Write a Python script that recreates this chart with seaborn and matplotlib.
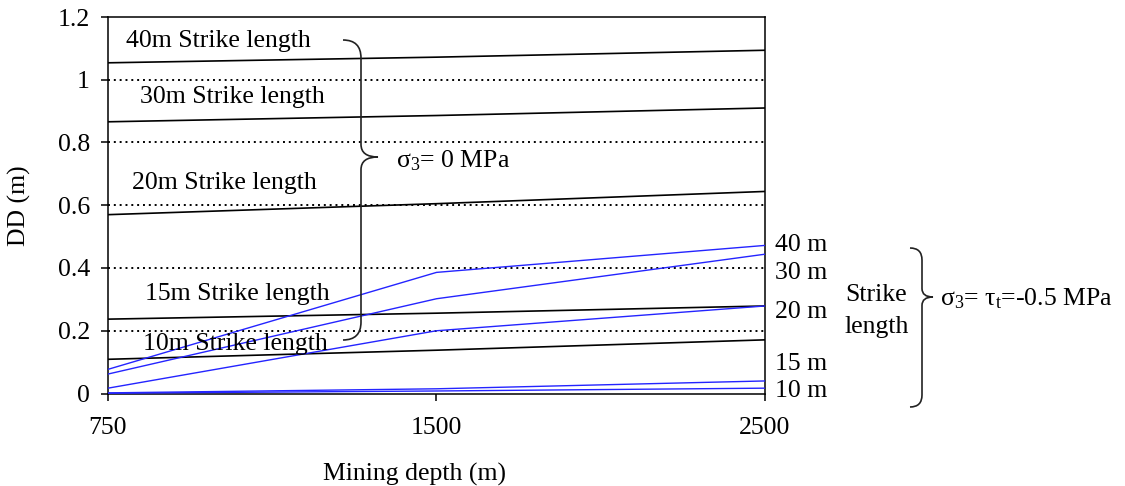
import numpy as np
import pandas as pd
import matplotlib
matplotlib.use("Agg")
import matplotlib.pyplot as plt
from matplotlib.path import Path
from matplotlib.patches import PathPatch
import seaborn as sns

# Mining depths (categorical axis) and strike lengths
depths = ["750", "1500", "2500"]
strike_lengths = [40, 30, 20, 15, 10]

# Displacement DD (m) with sigma3 = 0 MPa
dd_zero = {
    40: [1.054, 1.072, 1.094],
    30: [0.866, 0.886, 0.910],
    20: [0.570, 0.605, 0.644],
    15: [0.237, 0.256, 0.279],
    10: [0.109, 0.138, 0.171],
}

# Displacement DD (m) with sigma3 = tau_t = -0.5 MPa
dd_tension = {
    40: [0.077, 0.386, 0.472],
    30: [0.062, 0.302, 0.444],
    20: [0.017, 0.200, 0.279],
    15: [0.002, 0.015, 0.040],
    10: [0.001, 0.008, 0.017],
}

y_ticks = [0, 0.2, 0.4, 0.6, 0.8, 1, 1.2]
y_tick_labels = ["0", "0.2", "0.4", "0.6", "0.8", "1", "1.2"]


def long_form(table):
    rows = []
    for length in strike_lengths:
        for d, v in zip(depths, table[length]):
            rows.append({"Depth": d, "DD": v, "Strike": length})
    return pd.DataFrame(rows)


df_zero = long_form(dd_zero)
df_tension = long_form(dd_tension)

sns.set_theme(style="white")
plt.rcParams["font.family"] = ["Liberation Serif", "DejaVu Serif"]
plt.rcParams["mathtext.fontset"] = "custom"
plt.rcParams["mathtext.rm"] = "Liberation Serif"
plt.rcParams["mathtext.it"] = "Liberation Serif:italic"

W, H = 1125, 486
fig = plt.figure(figsize=(W / 100, H / 100), dpi=100)
ax = fig.add_axes([108 / W, 1 - 393.5 / H, (765 - 108) / W, (393.5 - 17) / H])


def fpos(px, py):
    return px / W, 1 - py / H


# dotted reference lines
for yv in y_ticks[1:-1]:
    ax.axhline(yv, color="black", lw=1.4, ls=(0, (1, 2)), zorder=1)

sns.lineplot(data=df_zero, x="Depth", y="DD", units="Strike", estimator=None,
             sort=False, color="black", lw=1.2, ax=ax, legend=False, zorder=3)
sns.lineplot(data=df_tension, x="Depth", y="DD", units="Strike", estimator=None,
             sort=False, color="#2424ff", lw=1.0, ax=ax, legend=False, zorder=4)

ax.set_xlim(0, len(depths) - 1)
ax.set_ylim(0, 1.2)
ax.set_yticks(y_ticks)
ax.set_yticklabels(y_tick_labels)
ax.set_xticks(range(len(depths)))
ax.set_xticklabels(depths)

for s in ax.spines.values():
    s.set_color("black")
    s.set_linewidth(1.1)
ax.tick_params(axis="both", direction="out", length=5, width=1.1, color="black",
               labelsize=18.5, labelcolor="black", left=True, bottom=True)
ax.tick_params(axis="y", pad=8)
ax.tick_params(axis="x", pad=12)

fs = 18.5
ax.set_xlabel("Mining depth (m)", fontsize=fs, color="black")
ax.xaxis.set_label_coords((415 - 108) / 657, -(463 - 393.5) / 376.5)
ax.set_ylabel("DD (m)", fontsize=fs, color="black")
ax.yaxis.set_label_coords(-(108 - 31) / 657, 0.5)

# labels for the sigma3 = 0 curves
for txt, px, py in [("40m Strike length", 126, 41),
                    ("30m Strike length", 140, 97),
                    ("20m Strike length", 132, 183),
                    ("15m Strike length", 145, 294),
                    ("10m Strike length", 143, 344)]:
    fig.text(*fpos(px, py), txt, fontsize=fs, ha="left", va="center", color="black")

fig.text(*fpos(396, 161), r"σ$_3$= 0 MPa", fontsize=fs, ha="left", va="center", color="black")

# labels for the tension curves
for txt, py in [("40 m", 245), ("30 m", 273), ("20 m", 312), ("15 m", 364), ("10 m", 391)]:
    fig.text(*fpos(775, py), txt, fontsize=fs, ha="left", va="center", color="black")
fig.text(*fpos(845, 295), "Strike", fontsize=fs, ha="left", va="center", color="black")
fig.text(*fpos(845, 327), "length", fontsize=fs, ha="left", va="center", color="black")
fig.text(*fpos(940, 299), r"σ$_3$= τ$_\mathrm{t}$=-0.5 MPa", fontsize=fs, ha="left",
         va="center", color="black")


def brace(x_end, x_spine, x_tip, y_top, y_mid, y_bot, r=14):
    pts = [
        (x_end, y_top), (x_spine, y_top), (x_spine, y_top + r),
        (x_spine, y_mid - r * 0.7),
        (x_spine, y_mid), (x_tip, y_mid),
        (x_spine, y_mid), (x_spine, y_mid + r * 0.7),
        (x_spine, y_bot - r),
        (x_spine, y_bot), (x_end, y_bot),
    ]
    codes = [Path.MOVETO, Path.CURVE3, Path.CURVE3, Path.LINETO,
             Path.CURVE3, Path.CURVE3, Path.CURVE3, Path.CURVE3,
             Path.LINETO, Path.CURVE3, Path.CURVE3]
    verts = [fpos(x, y) for x, y in pts]
    patch = PathPatch(Path(verts, codes), transform=fig.transFigure, fill=False,
                      edgecolor="#222222", lw=1.2, zorder=10)
    fig.add_artist(patch)


brace(343, 361, 378, 40, 157, 340, r=18)
brace(910, 922, 933, 248, 297, 407, r=12)

fig.savefig("out.png", dpi=100, facecolor="white")
